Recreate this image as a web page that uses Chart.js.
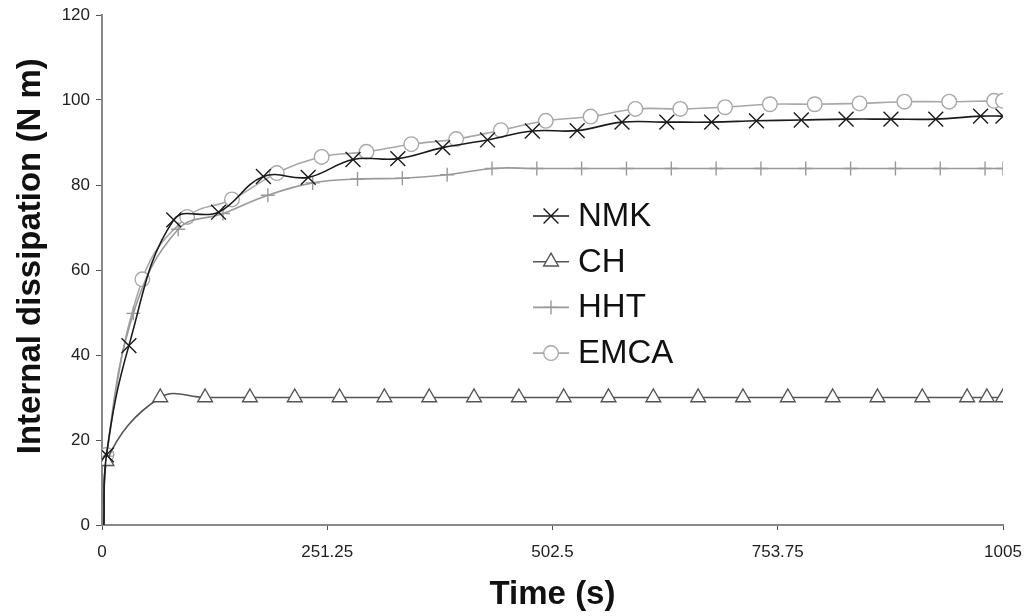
<!DOCTYPE html>
<html>
<head>
<meta charset="utf-8">
<script src="https://cdn.jsdelivr.net/npm/chart.js@4.4.0/dist/chart.umd.min.js"></script>
<style>
  body { margin: 0; background: #fff; }
  #wrap { width: 1027px; height: 616px; }
</style>
</head>
<body>
<div id="wrap"><canvas id="myChart" width="1027" height="616"></canvas></div>
<script>
// Internal dissipation (N m) against time (s), one pair of arrays per method
const seriesNames = ['NMK', 'CH', 'HHT', 'EMCA'];

const nmkTime = [2, 5, 30, 80, 130, 180, 230, 280, 330, 380, 430, 480, 530, 580, 630, 680, 730, 780, 830, 880, 930, 980, 1005];
const nmkValues = [0, 16.5, 42.2, 71.8, 73.6, 82.0, 81.8, 86.0, 86.2, 88.8, 90.6, 92.7, 92.8, 94.8, 94.8, 94.8, 95.1, 95.3, 95.5, 95.5, 95.5, 96.2, 96.2];

const chTime = [2, 5, 65, 115, 165, 215, 265, 315, 365, 415, 465, 515, 565, 615, 665, 715, 765, 815, 865, 915, 965, 987, 1005];
const chValues = [0, 15, 30, 30, 30, 30, 30, 30, 30, 30, 30, 30, 30, 30, 30, 30, 30, 30, 30, 30, 30, 30, 30];

const hhtTime = [2, 5, 35, 85, 135, 185, 235, 285, 335, 385, 435, 485, 535, 585, 635, 685, 735, 785, 835, 885, 935, 985, 1005];
const hhtValues = [0, 16.2, 49.8, 69.6, 73.3, 77.6, 80.5, 81.4, 81.6, 82.4, 83.9, 83.9, 83.9, 83.9, 83.9, 83.9, 83.9, 83.9, 83.9, 83.9, 83.9, 83.9, 83.9];

const emcaTime = [2, 5, 45, 95, 145, 195, 245, 295, 345, 395, 445, 495, 545, 595, 645, 695, 745, 795, 845, 895, 945, 995, 1005];
const emcaValues = [0, 16.5, 57.8, 72.5, 76.6, 82.8, 86.6, 87.8, 89.6, 90.8, 92.9, 95.1, 96.1, 97.9, 97.9, 98.3, 99.0, 99.0, 99.2, 99.6, 99.6, 99.8, 99.8];

const xTickValues = [0, 251.25, 502.5, 753.75, 1005];
const yTickMax = 120;

// look of each series
const lineColors = ['#1a1a1a', '#555555', '#999999', '#a8a8a8'];
const markerStyles = ['crossRot', 'triangle', 'cross', 'circle'];
const markerSizes = [10.5, 8.5, 7, 7.3];

function toPoints(xs, ys) {
  return xs.map((x, i) => ({ x: x, y: ys[i] }));
}

const allSeries = [
  toPoints(nmkTime, nmkValues),
  toPoints(chTime, chValues),
  toPoints(hhtTime, hhtValues),
  toPoints(emcaTime, emcaValues)
];

const datasets = allSeries.map((pts, i) => ({
  label: seriesNames[i],
  data: pts,
  borderColor: lineColors[i],
  backgroundColor: '#ffffff',
  pointBorderColor: lineColors[i],
  pointBackgroundColor: '#ffffff',
  borderWidth: 1.6,
  pointBorderWidth: 1.4,
  pointStyle: markerStyles[i],
  pointRadius: (c) => c.dataIndex === 0 ? 0 : markerSizes[i], // no marker on the origin point
  tension: 0.4,
  fill: false
}));

// legend sits inside the plot, so draw it by hand
const insideLegend = {
  id: 'insideLegend',
  afterDatasetsDraw(chart) {
    const { ctx, chartArea } = chart;
    const lineStart = chartArea.left + 431;
    const lineLen = 36;
    const firstRow = chartArea.top + 201;
    const rowGap = 45.7;
    ctx.save();
    chart.data.datasets.forEach((ds, i) => {
      const y = firstRow + i * rowGap;
      ctx.strokeStyle = ds.borderColor;
      ctx.lineWidth = ds.borderWidth;
      ctx.beginPath();
      ctx.moveTo(lineStart, y);
      ctx.lineTo(lineStart + lineLen, y);
      ctx.stroke();
      ctx.fillStyle = '#ffffff';
      ctx.lineWidth = ds.pointBorderWidth;
      Chart.helpers.drawPoint(ctx, {
        pointStyle: ds.pointStyle,
        radius: markerSizes[i],
        borderWidth: ds.pointBorderWidth,
        rotation: 0
      }, lineStart + lineLen / 2, y);
      ctx.fillStyle = '#111111';
      ctx.font = '33px "Liberation Sans", Arial, sans-serif';
      ctx.textAlign = 'left';
      ctx.textBaseline = 'middle';
      ctx.fillText(ds.label, lineStart + lineLen + 9, y + 1);
    });
    ctx.restore();
  }
};

const tickFont = { family: '"Liberation Sans", Arial, sans-serif', size: 17 };
const titleFont = { family: '"Liberation Sans", Arial, sans-serif', size: 33, weight: 'bold' };

const ctx = document.getElementById('myChart');
const myChart = new Chart(ctx, {
  type: 'line',
  data: { datasets: datasets },
  plugins: [insideLegend],
  options: {
    responsive: false,
    animation: false,
    layout: { padding: { left: 0, right: 24, top: 15, bottom: 0 } },
    plugins: {
      legend: { display: false },
      tooltip: { enabled: false }
    },
    scales: {
      x: {
        type: 'linear',
        min: 0,
        max: 1005,
        afterBuildTicks: (s) => { s.ticks = xTickValues.map(v => ({ value: v })); },
        afterFit: (s) => { s.height = 91; s.paddingLeft = 0; s.paddingRight = 0; },
        border: { color: '#888888', width: 2 },
        grid: { drawOnChartArea: false, tickLength: 5, color: '#555555', lineWidth: 1 },
        ticks: {
          font: tickFont,
          color: '#222222',
          padding: 12,
          maxRotation: 0,
          autoSkip: false,
          callback: (v) => String(v)
        },
        title: {
          display: true,
          text: 'Time (s)',
          font: titleFont,
          color: '#111111',
          padding: { top: 0, bottom: 1 }
        }
      },
      y: {
        min: 0,
        max: yTickMax,
        afterFit: (s) => { s.width = 102; s.paddingTop = 0; s.paddingBottom = 0; },
        border: { color: '#888888', width: 2 },
        grid: { drawOnChartArea: false, tickLength: 6, color: '#555555', lineWidth: 1 },
        ticks: {
          stepSize: 20,
          font: tickFont,
          color: '#222222',
          padding: 6
        },
        title: {
          display: true,
          text: '   Internal dissipation (N m)',
          font: titleFont,
          color: '#111111',
          padding: { top: 11, bottom: 0 }
        }
      }
    }
  }
});
</script>
</body>
</html>
